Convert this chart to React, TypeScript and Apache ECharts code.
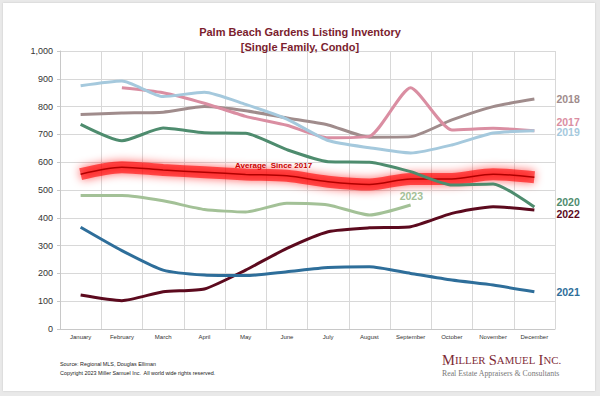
import React, { useEffect, useRef } from "react";
import * as echarts from "echarts";

const months = ["January", "February", "March", "April", "May", "June", "July", "August", "September", "October", "November", "December"];
const yTicks = [0, 100, 200, 300, 400, 500, 600, 700, 800, 900, 1000];
const s2017 = [null, 868, 850, 812, 765, 733, 688, 693, 868, 716, 722, 713];
const s2018 = [772, 777, 780, 800, 785, 759, 734, 690, 692, 752, 800, 827];
const s2019 = [875, 892, 836, 852, 808, 755, 678, 652, 633, 662, 705, 713];
const s2020 = [736, 677, 723, 706, 704, 645, 602, 600, 566, 518, 522, 439];
const s2021 = [366, 282, 212, 194, 192, 206, 221, 224, 200, 176, 158, 134];
const s2022 = [122, 102, 134, 144, 212, 290, 350, 364, 368, 416, 440, 428];
const s2023 = [480, 480, 461, 430, 421, 452, 446, 410, 446];
const avgSince2017 = [557, 582, 572, 564, 556, 551, 530, 520, 540, 540, 557, 546];

const SANS = "'Liberation Sans', Arial, sans-serif";
const SERIF = "'Liberation Serif', 'Times New Roman', serif";

function yearSeries(name: string, data: (number | null)[], color: string, dy: number, width = 3) {
  return {
    name,
    type: "line",
    data,
    smooth: 0.2,
    symbol: "none",
    lineStyle: { color, width },
    endLabel: {
      show: true,
      formatter: name,
      color,
      fontFamily: SANS,
      fontWeight: "bold",
      fontSize: 10.5,
      distance: 22,
      offset: [0, dy],
    },
  };
}

export default function App() {
  const ref = useRef<HTMLDivElement>(null);
  useEffect(() => {
    if (!ref.current) return;
    const chart = echarts.init(ref.current, null, { renderer: "svg" });
    chart.setOption({
      animation: false,
      title: {
        text: "Palm Beach Gardens Listing Inventory\n[Single Family, Condo]",
        left: "center",
        top: 19,
        textStyle: { fontSize: 11, fontWeight: "bold", color: "#7b1d2e", lineHeight: 15, fontFamily: SANS },
      },
      grid: { left: 60, right: 45, top: 51, bottom: 67 },
      xAxis: {
        type: "category",
        data: months,
        boundaryGap: true,
        axisLine: { lineStyle: { color: "#c8c8c8" } },
        axisTick: { show: false },
        splitLine: { show: true, lineStyle: { color: "#d8d8d8" } },
        axisLabel: { fontSize: 6, color: "#333", fontFamily: SANS, margin: 5, interval: 0 },
      },
      yAxis: {
        type: "value",
        min: yTicks[0],
        max: yTicks[yTicks.length - 1],
        interval: 100,
        axisLine: { show: true, lineStyle: { color: "#c8c8c8" } },
        axisTick: { show: true, length: 3, lineStyle: { color: "#c8c8c8" } },
        splitLine: { show: true, lineStyle: { color: "#d8d8d8" } },
        axisLabel: {
          fontSize: 9,
          color: "#333",
          fontFamily: SANS,
          margin: 7,
          formatter: (v: number) => v.toLocaleString("en-US"),
        },
      },
      series: [
        {
          name: "avgGlow",
          type: "line",
          data: avgSince2017,
          smooth: 0.3,
          symbol: "none",
          silent: true,
          lineStyle: { color: "rgba(255,0,0,0.6)", width: 12, shadowBlur: 10, shadowColor: "rgba(255,0,0,1)" },
        },
        {
          name: "Average Since 2017",
          type: "line",
          data: avgSince2017,
          smooth: 0.3,
          symbol: "none",
          lineStyle: { color: "#b00000", width: 1.5 },
        },
        yearSeries("2023", s2023, "#a3c197", 0),
        yearSeries("2018", s2018, "#a08c8c", 0),
        yearSeries("2017", s2017, "#da8ea2", -9),
        yearSeries("2019", s2019, "#a5c9dd", 1.5),
        yearSeries("2020", s2020, "#4e8c6e", -5),
        yearSeries("2022", s2022, "#5c0a1e", 3.5),
        yearSeries("2021", s2021, "#2e6e9a", 0),
      ].map((s: any) =>
        s.name === "2023"
          ? { ...s, endLabel: { ...s.endLabel, distance: 5, offset: [-16, -9] } }
          : s
      ),
      graphic: [
        {
          type: "text",
          left: 235,
          top: 161,
          style: { text: "Average  Since 2017", fill: "#c00000", font: `bold 8px ${SANS}` },
        },
        {
          type: "text",
          left: 60,
          top: 361,
          style: { text: "Source: Regional MLS, Douglas Elliman", fill: "#222", font: `5.4px ${SANS}` },
        },
        {
          type: "text",
          left: 60,
          top: 370,
          style: { text: "Copyright 2023 Miller Samuel Inc.  All world wide rights reserved.", fill: "#222", font: `5.4px ${SANS}` },
        },
        {
          type: "text",
          left: 442,
          top: 352,
          style: {
            text: "{b|M}{s|ILLER} {b|S}{s|AMUEL} {b|I}{s|NC.}",
            rich: {
              b: { fontSize: 14.5, fontFamily: SERIF, fill: "#7e2a36", color: "#7e2a36" },
              s: { fontSize: 10.8, fontFamily: SERIF, fill: "#7e2a36", color: "#7e2a36" },
            },
          },
        },
        {
          type: "text",
          left: 442,
          top: 369,
          style: { text: "Real Estate Appraisers & Consultants", fill: "#777", font: `7.8px ${SERIF}` },
        },
      ],
    });
    return () => chart.dispose();
  }, []);
  return (
    <div style={{ position: "fixed", left: 0, top: 0, width: 600, height: 396, background: "#e9e9e9" }}>
      <div style={{ position: "absolute", left: 3, top: 3, width: 592, height: 388, background: "#fff", boxShadow: "0 0 2px rgba(0,0,0,0.15)" }} />
      <div ref={ref} style={{ position: "absolute", left: 0, top: 0, width: 600, height: 396 }} />
    </div>
  );
}
